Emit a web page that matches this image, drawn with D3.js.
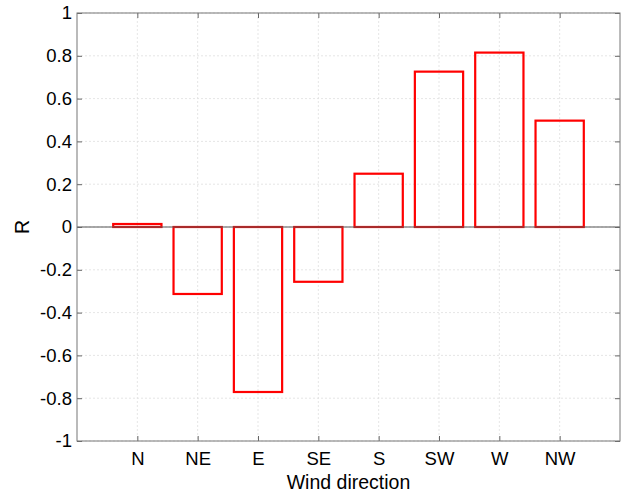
<!DOCTYPE html>
<html>
<head>
<meta charset="utf-8">
<script src="https://cdn.jsdelivr.net/npm/d3@7"></script>
<style>
  body { margin: 0; background: #fff; }
  text { font-family: "Liberation Sans", Arial, Helvetica, sans-serif; fill: #000; }
</style>
</head>
<body>
<div id="chart"></div>
<script>
// wind direction vs correlation R
const directions = ["N", "NE", "E", "SE", "S", "SW", "W", "NW"];
const rValues    = [0.014, -0.313, -0.771, -0.256, 0.249, 0.726, 0.815, 0.497];
const yTicks     = [-1, -0.8, -0.6, -0.4, -0.2, 0, 0.2, 0.4, 0.6, 0.8, 1];

const width = 623, height = 493;
const margin = { top: 13, right: 3, bottom: 52, left: 77 };
const innerW = width - margin.left - margin.right;
const innerH = height - margin.top - margin.bottom;

const svg = d3.select("#chart").append("svg")
    .attr("width", width).attr("height", height);
const g = svg.append("g").attr("transform", `translate(${margin.left},${margin.top})`);

// positions 1..8, axis from 0 to 9
const x = d3.scaleLinear().domain([0, directions.length + 1]).range([0, innerW]);
const y = d3.scaleLinear().domain([-1, 1]).range([innerH, 0]);
const xTicks = directions.map((d, i) => i + 1);

// grid
const grid = g.append("g").attr("class", "grid")
    .attr("stroke", "#dedede").attr("stroke-width", 0.8).attr("stroke-dasharray", "2,2");
grid.selectAll(".gx").data(xTicks).join("line")
    .attr("x1", d => x(d)).attr("x2", d => x(d)).attr("y1", 0).attr("y2", innerH);
grid.selectAll(".gy").data(yTicks).join("line")
    .attr("x1", 0).attr("x2", innerW).attr("y1", d => y(d)).attr("y2", d => y(d));

// bars
const barW = x(0.8) - x(0);
g.selectAll(".bar").data(rValues).join("rect")
    .attr("class", "bar")
    .attr("x", (d, i) => x(i + 1) - barW / 2)
    .attr("width", barW)
    .attr("y", d => y(Math.max(0, d)))
    .attr("height", d => Math.abs(y(d) - y(0)))
    .attr("fill", "none")
    .attr("stroke", "#ff0000")
    .attr("stroke-width", 2.2);

// baseline
g.append("line")
    .attr("x1", 0).attr("x2", innerW).attr("y1", y(0)).attr("y2", y(0))
    .attr("stroke", "#555").attr("stroke-width", 1);

// axes (ticks pointing inward, box)
const fmt = d => d === 0 ? "0" : String(d);
const axisStyle = sel => {
    sel.select(".domain").remove();
    sel.selectAll(".tick line").attr("stroke", "#666");
    sel.selectAll(".tick text").style("font-size", "18.5px").attr("fill", "#000");
};
g.append("g").attr("transform", `translate(0,${innerH})`)
    .call(d3.axisBottom(x).tickValues(xTicks).tickFormat((d, i) => directions[i])
        .tickSize(-5).tickPadding(11))
    .call(axisStyle);
g.append("g")
    .call(d3.axisTop(x).tickValues(xTicks).tickFormat("").tickSize(-5))
    .call(axisStyle);
g.append("g")
    .call(d3.axisLeft(y).tickValues(yTicks).tickFormat(fmt).tickSize(-5).tickPadding(5))
    .call(axisStyle);
g.append("g").attr("transform", `translate(${innerW},0)`)
    .call(d3.axisRight(y).tickValues(yTicks).tickFormat("").tickSize(-5))
    .call(axisStyle);

// box
g.append("rect")
    .attr("width", innerW).attr("height", innerH)
    .attr("fill", "none").attr("stroke", "#777").attr("stroke-width", 1);

// labels
svg.append("text")
    .attr("x", margin.left + innerW / 2).attr("y", 489)
    .attr("text-anchor", "middle").style("font-size", "19.5px")
    .text("Wind direction");
svg.append("text")
    .attr("transform", `translate(29,${margin.top + y(0)}) rotate(-90)`)
    .attr("text-anchor", "middle").style("font-size", "19.5px")
    .text("R");
</script>
</body>
</html>
